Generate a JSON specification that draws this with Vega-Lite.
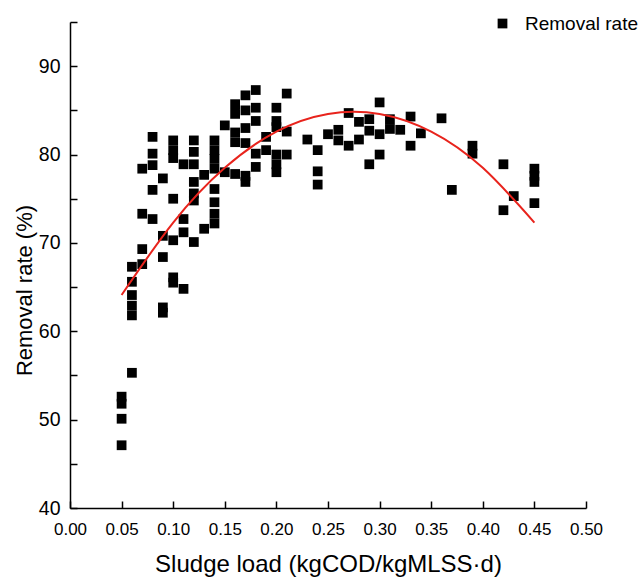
{
  "$schema": "https://vega.github.io/schema/vega-lite/v6.json",
  "width": 516,
  "height": 486,
  "autosize": {"type": "none"},
  "padding": {"left": 70, "top": 22, "right": 58, "bottom": 73},
  "background": "white",
  "config": {
    "view": {"stroke": null},
    "font": "Liberation Sans",
    "axis": {
      "domainColor": "black", "domainWidth": 1.5, "tickColor": "black", "tickWidth": 1.5,
      "grid": false, "labelColor": "black", "titleColor": "black",
      "labelFont": "Liberation Sans", "titleFont": "Liberation Sans", "titleFontWeight": "normal"
    }
  },
  "datasets": {
    "pts": [
      {"load": 0.05, "rate": 52.6}, {"load": 0.05, "rate": 51.8}, {"load": 0.05, "rate": 50.1}, {"load": 0.05, "rate": 47.1},
      {"load": 0.06, "rate": 67.3}, {"load": 0.06, "rate": 65.6}, {"load": 0.06, "rate": 64.1}, {"load": 0.06, "rate": 62.9}, {"load": 0.06, "rate": 61.8}, {"load": 0.06, "rate": 55.3},
      {"load": 0.07, "rate": 78.4}, {"load": 0.07, "rate": 73.3}, {"load": 0.07, "rate": 69.3}, {"load": 0.07, "rate": 67.6},
      {"load": 0.08, "rate": 82.0}, {"load": 0.08, "rate": 80.1}, {"load": 0.08, "rate": 78.8}, {"load": 0.08, "rate": 76.0}, {"load": 0.08, "rate": 72.7},
      {"load": 0.09, "rate": 77.3}, {"load": 0.09, "rate": 70.8}, {"load": 0.09, "rate": 68.4}, {"load": 0.09, "rate": 62.7}, {"load": 0.09, "rate": 62.1},
      {"load": 0.10, "rate": 81.6}, {"load": 0.10, "rate": 80.5}, {"load": 0.10, "rate": 79.6}, {"load": 0.10, "rate": 75.0}, {"load": 0.10, "rate": 70.3}, {"load": 0.10, "rate": 66.1}, {"load": 0.10, "rate": 65.5},
      {"load": 0.11, "rate": 78.9}, {"load": 0.11, "rate": 72.7}, {"load": 0.11, "rate": 71.2}, {"load": 0.11, "rate": 64.8},
      {"load": 0.12, "rate": 81.6}, {"load": 0.12, "rate": 80.3}, {"load": 0.12, "rate": 78.9}, {"load": 0.12, "rate": 76.9}, {"load": 0.12, "rate": 75.6}, {"load": 0.12, "rate": 74.8}, {"load": 0.12, "rate": 70.1},
      {"load": 0.13, "rate": 77.7}, {"load": 0.13, "rate": 71.6},
      {"load": 0.14, "rate": 81.6}, {"load": 0.14, "rate": 80.5}, {"load": 0.14, "rate": 79.5}, {"load": 0.14, "rate": 78.4}, {"load": 0.14, "rate": 76.1}, {"load": 0.14, "rate": 74.6}, {"load": 0.14, "rate": 73.3}, {"load": 0.14, "rate": 72.2},
      {"load": 0.15, "rate": 83.3}, {"load": 0.15, "rate": 78.0},
      {"load": 0.16, "rate": 85.7}, {"load": 0.16, "rate": 84.6}, {"load": 0.16, "rate": 82.5}, {"load": 0.16, "rate": 81.4}, {"load": 0.16, "rate": 77.8},
      {"load": 0.17, "rate": 86.7}, {"load": 0.17, "rate": 85.0}, {"load": 0.17, "rate": 83.0}, {"load": 0.17, "rate": 81.3}, {"load": 0.17, "rate": 77.6}, {"load": 0.17, "rate": 76.9},
      {"load": 0.18, "rate": 87.3}, {"load": 0.18, "rate": 85.3}, {"load": 0.18, "rate": 83.8}, {"load": 0.18, "rate": 80.1}, {"load": 0.18, "rate": 78.6},
      {"load": 0.19, "rate": 82.0}, {"load": 0.19, "rate": 80.5},
      {"load": 0.20, "rate": 85.3}, {"load": 0.20, "rate": 83.8}, {"load": 0.20, "rate": 83.1}, {"load": 0.20, "rate": 80.0}, {"load": 0.20, "rate": 78.9}, {"load": 0.20, "rate": 78.0},
      {"load": 0.21, "rate": 86.9}, {"load": 0.21, "rate": 82.6}, {"load": 0.21, "rate": 80.0},
      {"load": 0.23, "rate": 81.7},
      {"load": 0.24, "rate": 80.5}, {"load": 0.24, "rate": 78.1}, {"load": 0.24, "rate": 76.6},
      {"load": 0.25, "rate": 82.3},
      {"load": 0.26, "rate": 82.8}, {"load": 0.26, "rate": 81.6},
      {"load": 0.27, "rate": 84.7}, {"load": 0.27, "rate": 81.0},
      {"load": 0.28, "rate": 83.7}, {"load": 0.28, "rate": 81.7},
      {"load": 0.29, "rate": 84.0}, {"load": 0.29, "rate": 82.7}, {"load": 0.29, "rate": 78.9},
      {"load": 0.30, "rate": 85.9}, {"load": 0.30, "rate": 82.3}, {"load": 0.30, "rate": 80.0},
      {"load": 0.31, "rate": 84.0}, {"load": 0.31, "rate": 82.9},
      {"load": 0.32, "rate": 82.8},
      {"load": 0.33, "rate": 84.3}, {"load": 0.33, "rate": 81.0},
      {"load": 0.34, "rate": 82.4},
      {"load": 0.36, "rate": 84.1},
      {"load": 0.37, "rate": 76.0},
      {"load": 0.39, "rate": 81.0}, {"load": 0.39, "rate": 80.1},
      {"load": 0.42, "rate": 78.9}, {"load": 0.42, "rate": 73.7},
      {"load": 0.43, "rate": 75.3},
      {"load": 0.45, "rate": 78.4}, {"load": 0.45, "rate": 77.6}, {"load": 0.45, "rate": 76.9}, {"load": 0.45, "rate": 74.5}
    ],
    "fit": [
      {"load": 0.05, "rate": 64.1}, {"load": 0.10, "rate": 72.3}, {"load": 0.15, "rate": 78.5},
      {"load": 0.20, "rate": 82.6}, {"load": 0.25, "rate": 84.6}, {"load": 0.30, "rate": 84.6},
      {"load": 0.35, "rate": 82.6}, {"load": 0.40, "rate": 78.5}, {"load": 0.45, "rate": 72.3}
    ]
  },
  "layer": [
    {
      "data": {"name": "pts"},
      "mark": {"type": "point", "shape": "square", "filled": true, "opacity": 1, "size": 95},
      "encoding": {
        "x": {
          "field": "load", "type": "quantitative",
          "scale": {"domain": [0, 0.5], "nice": false, "zero": false},
          "axis": {
            "title": "Sludge load (kgCOD/kgMLSS·d)",
            "values": [0, 0.05, 0.1, 0.15, 0.2, 0.25, 0.3, 0.35, 0.4, 0.45, 0.5],
            "format": ".2f", "labelFontSize": 17, "titleFontSize": 24,
            "tickSize": -7, "labelPadding": 20, "titlePadding": 15, "labelFlush": false
          }
        },
        "y": {
          "field": "rate", "type": "quantitative",
          "scale": {"domain": [40, 95], "nice": false, "zero": false},
          "axis": {
            "title": "Removal rate (%)",
            "values": [40, 45, 50, 55, 60, 65, 70, 75, 80, 85, 90, 95],
            "labelExpr": "datum.value % 10 === 0 ? datum.label : ''",
            "labelFontSize": 19.5, "titleFontSize": 22, "titleY": 268,
            "tickSize": -7, "labelPadding": 17, "titlePadding": 2, "labelFlush": false
          }
        },
        "color": {
          "datum": "Removal rate",
          "scale": {"range": ["black"]},
          "legend": {
            "title": null, "orient": "none", "legendX": 423, "legendY": -8,
            "symbolType": "square", "symbolSize": 95, "symbolFillColor": "black", "symbolStrokeWidth": 0,
            "labelFontSize": 19, "labelFont": "Liberation Sans", "labelColor": "black", "labelOffset": 13, "padding": 0
          }
        }
      }
    },
    {
      "data": {"name": "fit"},
      "mark": {"type": "line", "color": "#e8231c", "strokeWidth": 2, "interpolate": "natural"},
      "encoding": {
        "x": {"field": "load", "type": "quantitative"},
        "y": {"field": "rate", "type": "quantitative"}
      }
    }
  ]
}
